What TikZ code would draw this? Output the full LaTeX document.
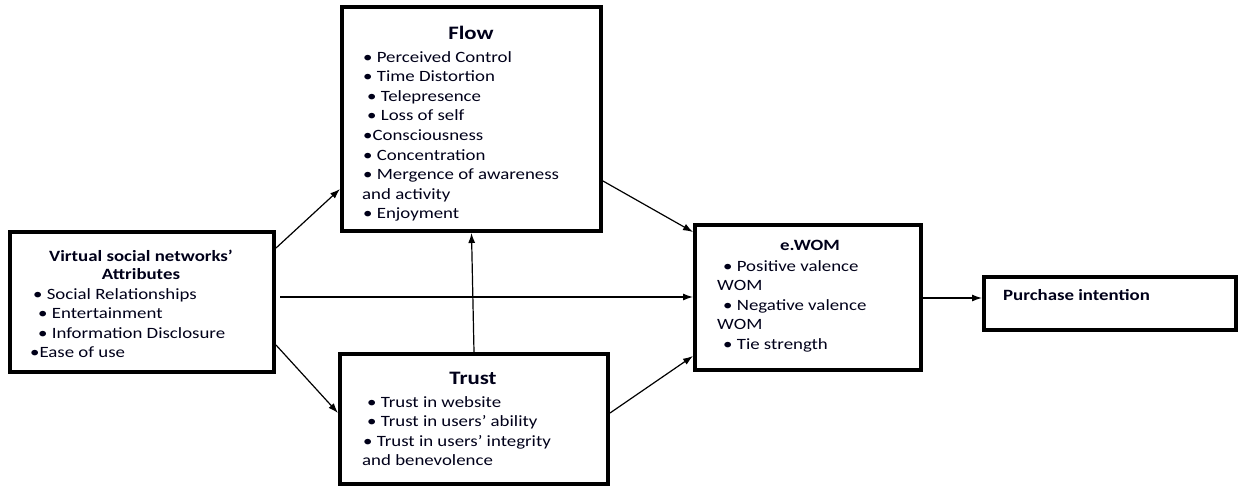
\documentclass[tikz,border=0pt]{standalone}
\usepackage{fontspec}
\setmainfont{Carlito}[FakeStretch=1.2]
\usetikzlibrary{arrows.meta,calc}
\begin{document}
\begin{tikzpicture}[x=1pt,y=-1pt,
  box/.style={draw=black,line width=4pt,rectangle,inner sep=0pt},
  txt/.style={inner sep=0pt,anchor=north west,align=left,font=\fontsize{15.7}{19.6}\selectfont,text=black!90!blue},
  ttl/.style={inner sep=0pt,font=\fontsize{15.7}{18.5}\selectfont\bfseries,align=center,text=black!90!blue},
  bigttl/.style={inner sep=0pt,font=\fontsize{19}{22}\selectfont\bfseries,text=black!90!blue},
  arr/.style={line width=1.2pt,-{Latex[length=10pt,width=7pt]}}]
\useasboundingbox (0,0) rectangle (1239,488);
% boxes
\node[box,minimum width=264pt,minimum height=140pt] (vsn) at (142,302) {};
\node[box,minimum width=259pt,minimum height=224pt] (flow) at (471.5,119) {};
\node[box,minimum width=268pt,minimum height=130pt] (trust) at (474,419) {};
\node[box,minimum width=226pt,minimum height=145pt] (ewom) at (808,297.5) {};
\node[box,minimum width=252pt,minimum height=53pt] (pur) at (1110,303.5) {};
% texts
\node[ttl] (vsnt) at (141,265) {Virtual social networks'\\Attributes};
\node[txt] (vsni) at (30,288) {\hspace*{3pt}• Social Relationships\\\hspace*{8pt}• Entertainment\\\hspace*{8pt}• Information Disclosure\\•Ease of use};
\node[bigttl] (flowt) at (471,33) {Flow};
\node[txt] (flowi) at (362,51) {\hspace*{1pt}• Perceived Control\\\hspace*{1pt}• Time Distortion\\\hspace*{5pt}• Telepresence\\\hspace*{5pt}• Loss of self\\\hspace*{1pt}•Consciousness\\\hspace*{1pt}• Concentration\\\hspace*{1pt}• Mergence of awareness\\and activity\\\hspace*{1pt}• Enjoyment};
\node[bigttl] (trustt) at (473,378) {Trust};
\node[txt] (trusti) at (362,396) {\hspace*{5pt}• Trust in website\\\hspace*{5pt}• Trust in users' ability\\\hspace*{1pt}• Trust in users' integrity\\and benevolence};
\node[ttl] (ewomt) at (810,245) {e.WOM};
\node[txt] (ewomi) at (717,260) {\hspace*{6pt}• Positive valence\\WOM\\\hspace*{6pt}• Negative valence\\WOM\\\hspace*{6pt}• Tie strength};
\node[ttl,anchor=west] (purt) at (1003,295) {Purchase intention};
% connectors
\draw[arr] ($(vsn.north east)+(0,18)$) -- ($(flow.south west)+(0,-44)$);
\draw[arr] ($(vsn.south east)+(0,-29)$) -- ($(trust.west)+(0,-6)$);
\draw[arr] ($(vsn.east)+(4,-5)$) -- ($(ewom.west)+(0,-0.5)$);
\draw[arr] (trust.north) -- (flow.south);
\draw[arr] ($(flow.south east)+(0,-52)$) -- ($(ewom.north west)+(0,9)$);
\draw[arr] ($(trust.east)+(0,-6)$) -- ($(ewom.south west)+(0,-16)$);
\draw[arr] ($(ewom.east)+(0,0.5)$) -- ($(pur.west)+(0,-5.5)$);
\end{tikzpicture}
\end{document}
